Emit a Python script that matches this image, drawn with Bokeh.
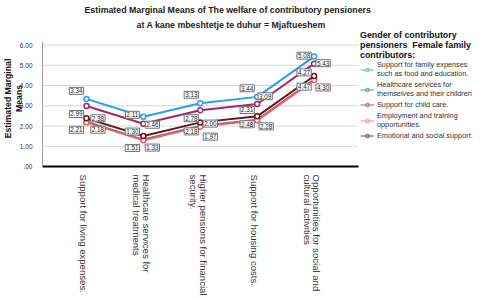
import math
from bokeh.plotting import figure
from bokeh.models import Range1d, FixedTicker, Legend, LegendItem, ColumnDataSource, Title
from bokeh.core.properties import value
from bokeh.embed import file_html
from bokeh.resources import INLINE

# ---------------- data ----------------
categories = [
    "Support for living expenses.",
    "Healthcare services for\nmedical treatments",
    "Higher pensions for financial\nsecurity.",
    "Support for housing costs.",
    "Opportunities for social and\ncultural activities",
]
series_names = [
    "Support for family expenses\nsuch as food and education.",
    "Healthcare services for\nthemselves and their children",
    "Support for child care.",
    "Employment and training\nopportunities.",
    "Emotional and social support.",
]
family_expenses = [3.34, 2.46, 3.13, 3.44, 5.43]
healthcare = [2.21, 1.33, 2.00, 2.31, 4.30]
child_care = [2.99, 2.11, 2.78, 3.09, 5.08]
employment = [2.18, 1.30, 1.97, 2.28, 4.27]
emotional = [2.38, 1.51, 2.18, 2.48, 4.47]
series_values = [family_expenses, healthcare, child_care, employment, emotional]

y_ticks = [0, 1, 2, 3, 4, 5, 6]
y_tick_labels = [".00", "1.00", "2.00", "3.00", "4.00", "5.00", "6.00"]

title_lines = ["Estimated Marginal Means of The welfare of contributory pensioners",
               "at A kane mbeshtetje te duhur = Mjaftueshem"]
y_label = "Estimated Marginal\nMeans"
legend_title = "Gender of contributory\npensioners  Female family\ncontributors:"

# ---------------- style ----------------
colors = ["#2a9ef0", "#3a8d85", "#a3276b", "#f25c5c", "#6e1221"]
legend_colors = ["#5fb0ef", "#4f9a92", "#b05586", "#f58a8a", "#8a3a44"]
FONT = "Liberation Sans"

# label offsets (screen px) per series, per category
label_dx = [
    [-10, 9, -9, -10, 9],
    [-10, 9, 10, -10, 9],
    [-10, -11, -9, 8, -10],
    [11.5, -11, 10, 9, -10],
    [11.5, -11, -9, -10, -10],
]
label_dy = [
    [-8, 8, -8.4, -8.6, 6.6],
    [8, 8, -2.4, -9.8, 8],
    [8, -9, 8, -7.7, -8],
    [7.4, -8.6, 10, 6, -7.7],
    [0, 12, 9, 8, 10.6],
]
# horizontal nudge (px) of the rotated category labels, by number of lines
cat_label_nudge = {1: -3, 2: -2}

W, H = 480, 298
L, T, B = 42, 23, 166          # frame edges (px); frame runs to the right edge
PLOT_R = 358                   # right end of the plotting area (px)
PX_PER_CAT = 56.9
PX_PER_UNIT = 21.28
x0 = -0.773
x_plot_end = x0 + (PLOT_R - L) / PX_PER_CAT
x1 = x0 + (W - L) / PX_PER_CAT
y0 = 0.0
y_axis_top = 6.2
y1 = (B - T) / PX_PER_UNIT

p = figure(width=W, height=H, x_range=Range1d(x0, x1), y_range=Range1d(y0, y1),
           output_backend="svg", toolbar_location=None,
           min_border_left=L, min_border_right=0, min_border_top=T, min_border_bottom=H - B)
p.outline_line_color = None
p.background_fill_color = "white"
p.xgrid.visible = False
p.ygrid.visible = False

# titles
p.title.text = title_lines[0]
p.title.align = "left"
p.title.offset = 42
p.title.standoff = 5
p.title.text_font = FONT
p.title.text_font_size = "8.8px"
p.title.text_font_style = "bold"
p.title.text_color = "#222222"
p.add_layout(Title(text=title_lines[1], align="left", offset=94, standoff=1,
                   text_font=FONT, text_font_size="8.8px", text_font_style="bold",
                   text_color="#222222"), "above")

# horizontal grid lines limited to the plotting area
p.segment(x0=[x0] * len(y_ticks), x1=[x_plot_end] * len(y_ticks), y0=y_ticks, y1=y_ticks,
          line_color="#d9d9d9", line_width=1)

p.yaxis.ticker = FixedTicker(ticks=y_ticks)
p.yaxis.bounds = (y0, y_axis_top)
p.yaxis.major_label_overrides = {t: s for t, s in zip(y_ticks, y_tick_labels)}
p.yaxis.major_label_text_font = FONT
p.yaxis.major_label_text_font_size = "6.5px"
p.yaxis.major_label_text_color = "#333333"
p.yaxis.major_label_standoff = 4
p.yaxis.major_tick_line_color = None
p.yaxis.minor_tick_line_color = None
p.yaxis.axis_line_color = "#a0a0a0"
p.yaxis.axis_label = y_label
p.yaxis.axis_label_text_font = FONT
p.yaxis.axis_label_text_font_size = "8.7px"
p.yaxis.axis_label_text_font_style = "bold"
p.yaxis.axis_label_text_color = "#111111"
p.yaxis.axis_label_text_line_height = 1.05
p.yaxis.axis_label_standoff = -7

x_idx = list(range(len(categories)))
label_ticks = [i + cat_label_nudge[c.count("\n") + 1] / PX_PER_CAT for i, c in zip(x_idx, categories)]
p.xaxis.ticker = FixedTicker(ticks=label_ticks)
p.xaxis.bounds = (x0, x_plot_end)
p.xaxis.major_label_overrides = {t: c for t, c in zip(label_ticks, categories)}
p.xaxis.major_label_orientation = -math.pi / 2
p.xaxis.major_label_text_font = FONT
p.xaxis.major_label_text_font_size = "9.6px"
p.xaxis.major_label_text_line_height = 0.87
p.xaxis.major_label_text_color = "#333333"
p.xaxis.major_label_standoff = 2
p.xaxis.major_tick_line_color = None
p.xaxis.minor_tick_line_color = None
p.xaxis.axis_line_color = "black"
p.xaxis.axis_line_width = 2

# lines and points
for vals, c in zip(series_values, colors):
    src = ColumnDataSource(dict(x=x_idx, y=vals))
    p.line("x", "y", source=src, line_color=c, line_width=2)
    p.scatter("x", "y", source=src, marker="circle", size=5, line_color=c,
              fill_color="white", line_width=1.5)

# value labels
for vals, dxs, dys in zip(series_values, label_dx, label_dy):
    src = ColumnDataSource(dict(x=x_idx, y=vals, t=["%.2f" % v for v in vals],
                                dx=dxs, dy=dys))
    p.text("x", "y", text="t", source=src, x_offset="dx", y_offset="dy",
           text_align="center", text_baseline="middle",
           text_font=value(FONT), text_font_size="6.3px", text_color="#222222",
           background_fill_color="white", border_line_color="#707070",
           border_line_width=1, padding=1)

# legend (uses hidden copies of the series with legend styling)
items = []
for name, vals, c in zip(series_names, series_values, legend_colors):
    src = ColumnDataSource(dict(x=x_idx, y=vals))
    lr = p.line("x", "y", source=src, line_color=c, line_width=1, visible=False)
    sr = p.scatter("x", "y", source=src, marker="circle", size=9, line_color=c,
                   fill_color=None, line_width=1, visible=False)
    items.append(LegendItem(label=name, renderers=[lr, sr]))
legend = Legend(items=items, location=(PLOT_R + 2 - L, 26))
legend.title = legend_title
legend.title_text_font = FONT
legend.title_text_font_size = "8.9px"
legend.title_text_font_style = "bold"
legend.title_text_color = "#111111"
legend.title_text_line_height = 1.17
legend.title_standoff = 0
legend.border_line_color = None
legend.background_fill_alpha = 0
legend.inactive_fill_alpha = 0
legend.padding = 0
legend.margin = 0
legend.spacing = 2
legend.glyph_width = 14
legend.glyph_height = 9
legend.label_height = 9
legend.label_standoff = 3
legend.label_text_font = FONT
legend.label_text_font_size = "7.3px"
legend.label_text_line_height = 1.15
legend.label_text_color = "#333333"
legend.click_policy = "none"
p.add_layout(legend)

open("out.html", "w").write(file_html(p, INLINE))
